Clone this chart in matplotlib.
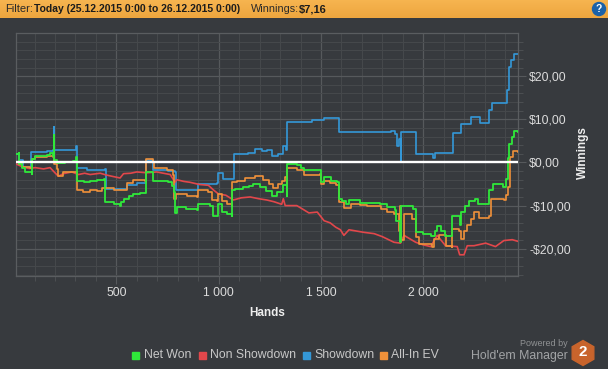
import matplotlib
matplotlib.use('Agg')
import matplotlib.pyplot as plt
from matplotlib.colors import LinearSegmentedColormap
from matplotlib.patches import Rectangle, RegularPolygon, Circle
import numpy as np

net_won_h = [7, 22, 23, 38, 54, 87, 87, 103, 135, 160, 176, 189, 193, 193, 195, 195, 209, 250, 290, 303, 310, 340, 370, 404, 440, 445, 486, 518, 525, 535, 560, 583, 615, 645, 645, 678, 681, 720, 754, 770, 782, 787, 795, 840, 893, 901, 958, 974, 994, 996, 1015, 1040, 1064, 1067, 1080, 1120, 1150, 1170, 1202, 1230, 1259, 1285, 1316, 1336, 1336, 1360, 1382, 1400, 1417, 1460, 1495, 1498, 1515, 1550, 1580, 1588, 1605, 1621, 1637, 1690, 1740, 1788, 1825, 1861, 1869, 1882, 1885, 1893, 1950, 1963, 2000, 2040, 2055, 2068, 2085, 2105, 2137, 2141, 2178, 2186, 2205, 2225, 2251, 2268, 2317, 2320, 2341, 2390, 2406, 2412, 2419, 2432, 2443, 2464]
net_won = [2.0, 2.1, -0.3, -1.2, -2.2, -2.6, 0.9, 1.4, 1.5, 1.7, 2.1, 1.4, 1.0, 6.3, 6.3, 0.5, -0.2, 0, 0.3, 1.2, -4.2, -4.5, -4.2, -4.0, -3.8, -9.2, -9.6, -10, -9.2, -8.4, -7.8, -7.3, -7, -6.9, -2.2, -2.5, -4.2, -4.4, -4.6, -5.5, -6.9, -11.8, -10.4, -10.8, -11.1, -9.7, -10.2, -12.3, -12.3, -9.7, -11.5, -12, -12.5, -6.5, -6.1, -5.8, -5.5, -5.1, -5.7, -6.6, -7.7, -6.8, -5.3, -7.7, -0.3, -0.4, -0.7, -1.3, -1.7, -1.8, -1.7, -4.6, -3.4, -4.2, -4.6, -8.4, -9, -9.6, -8.8, -9.4, -9.5, -9.6, -10.4, -11.1, -13.5, -13.5, -18.5, -10, -10.8, -16.2, -16.6, -17, -15.8, -14.8, -15.8, -17, -17, -12.5, -14.6, -11.5, -10.2, -9, -8.4, -9.6, -9.6, -6.5, -5.1, -5.7, -3.8, 1, 4.3, 6, 7.4, 7.0]

non_showdown_h = [7, 46, 75, 103, 144, 176, 200, 217, 241, 282, 315, 345, 372, 421, 450, 478, 518, 535, 570, 600, 650, 697, 763, 787, 795, 830, 860, 905, 950, 975, 999, 1035, 1072, 1110, 1154, 1195, 1235, 1270, 1308, 1316, 1325, 1382, 1417, 1441, 1482, 1515, 1545, 1572, 1595, 1612, 1637, 1710, 1760, 1800, 1857, 1889, 1906, 1963, 2000, 2036, 2068, 2109, 2166, 2178, 2199, 2215, 2248, 2305, 2353, 2394, 2435, 2464]
non_showdown = [-0.3, -1.1, -1.4, -1.2, -1.5, -1.2, -2.4, -3.2, -2.6, -2.2, -2.8, -2.5, -2.8, -2.5, -2.9, -3.2, -3.6, -2.6, -2.5, -2.2, -2.4, -2.2, -2.8, -4.6, -4, -4.4, -4.6, -5.1, -5.3, -6.4, -7.3, -7.6, -8.7, -8.2, -8, -8.4, -8.7, -9.1, -9.7, -8.4, -10, -10, -11, -11.7, -11.5, -13.5, -14, -15, -15.6, -16.9, -15.6, -16.2, -16.5, -17.2, -18.5, -18.7, -16.9, -18.5, -19.1, -19.5, -16.9, -19.3, -19.5, -21.4, -21.4, -19.3, -19.3, -18.7, -19.5, -18.1, -17.9, -18.3]

showdown_h = [7, 22, 46, 85, 85, 160, 189, 193, 197, 290, 303, 310, 355, 445, 450, 526, 551, 600, 645, 645, 681, 681, 754, 787, 790, 893, 901, 991, 999, 1020, 1064, 1075, 1145, 1178, 1210, 1235, 1259, 1292, 1316, 1329, 1336, 1336, 1417, 1458, 1515, 1583, 1588, 1783, 1840, 1860, 1873, 1881, 1893, 1893, 1958, 1963, 2036, 2046, 2055, 2142, 2145, 2182, 2186, 2229, 2231, 2272, 2275, 2318, 2321, 2337, 2394, 2410, 2419, 2430, 2443, 2464]
showdown = [1.9, 0.5, -1.1, -0.3, 2.4, 2.6, 2.9, 8.2, 2.9, 3, 3.9, -1.2, -1.7, -1.5, -6.1, -6.1, -5.3, -4.8, -4.8, 0.5, -0.3, -1.7, -1.9, -2.2, -6.3, -6.3, -4.9, -4.8, -2.5, -3.9, -3.9, 2, 2.2, 3.2, 2.7, 2.9, 1.6, 2, 3.7, 2.8, 2.8, 9.4, 9.4, 9.9, 10.2, 10.2, 7, 7, 7.3, 6.7, 3.9, 5.5, 0, 7, 7, 2, 2, 1.1, 2.2, 2.2, 6.8, 7, 8.9, 8.9, 10.5, 10.5, 9.2, 9.2, 12.2, 13.8, 13.8, 16.7, 22.1, 23.7, 25.2, 25.2]

allin_ev_h = [7, 23, 38, 79, 87, 103, 160, 189, 193, 209, 217, 241, 298, 310, 339, 370, 404, 429, 486, 526, 551, 583, 640, 645, 678, 685, 746, 779, 784, 792, 844, 893, 901, 950, 966, 991, 999, 1015, 1040, 1064, 1067, 1088, 1130, 1178, 1219, 1245, 1267, 1290, 1308, 1325, 1333, 1336, 1382, 1417, 1495, 1498, 1515, 1545, 1572, 1588, 1612, 1645, 1690, 1726, 1792, 1825, 1857, 1881, 1884, 1893, 1906, 1946, 1963, 1979, 2044, 2052, 2077, 2109, 2139, 2142, 2174, 2182, 2200, 2215, 2232, 2248, 2272, 2321, 2332, 2394, 2405, 2414, 2424, 2440, 2464]
allin_ev = [0, -0.3, -1.1, -1.2, 0.9, 1.2, 1.4, 1.2, -0.3, -1.5, -3.2, -2.2, -2.2, -6.5, -6.9, -6.5, -6.7, -5.9, -6.3, -6.3, -4.8, -4, -4.2, 0.9, 0.1, -1.2, -1.7, -3, -8.4, -7.3, -7.7, -7.9, -6.5, -6.9, -8.7, -9, -7.3, -9, -9.6, -10.2, -4.6, -4.2, -3.7, -3.2, -4, -5, -5.9, -5, -4.2, -3.4, -6.1, -1.2, -1.7, -3, -2.6, -5.1, -4.2, -4.8, -5.3, -9.2, -10.5, -9.6, -9.8, -10, -10.8, -11.4, -11.9, -15.8, -10, -18, -11.9, -13.1, -17.3, -18.9, -19.5, -17.7, -16.9, -19.3, -19.5, -15.4, -15.8, -17.7, -16, -14.6, -13, -11.4, -12.8, -12.5, -8.4, -8.7, -7.5, -5.7, 1.2, 2.6, 2.4]

x_ticks = [500, 1000, 1500, 2000]
x_labels = ['500', '1 000', '1 500', '2 000']
y_ticks = [-20, -10, 0, 10, 20]
y_labels = ['-$20,00', '-$10,00', '$0,00', '$10,00', '$20,00']
legend_names = ['Net Won', 'Non Showdown', 'Showdown', 'All-In EV']

bg = '#373a3e'
green = '#2fe83a'
red = '#e2474b'
blue = '#3498d8'
orange = '#f0913a'
txt = '#dcdcdc'

plt.rcParams['font.family'] = ['Liberation Sans', 'DejaVu Sans']

W, H = 608, 369
fig = plt.figure(figsize=(W / 100, H / 100), dpi=100, facecolor=bg)
ax = fig.add_axes([15.5 / W, 1 - 275.5 / H, 502.5 / W, 242.5 / H], facecolor=bg)

ax.plot(showdown_h, showdown, color=blue, lw=1.2, drawstyle='steps-post', zorder=3)
ax.plot(non_showdown_h, non_showdown, color=red, lw=1.2, zorder=4)
ax.plot(allin_ev_h, allin_ev, color=orange, lw=1.2, drawstyle='steps-post', zorder=5)
ax.plot(net_won_h, net_won, color=green, lw=1.3, drawstyle='steps-post', zorder=6)
ax.axhline(0, color='white', lw=1.7, zorder=7)

ax.set_xlim(7, 2463)
ax.set_ylim(-26.2, 30)
ax.set_xticks(x_ticks, x_labels)
ax.set_yticks(y_ticks, y_labels)
ax.set_xticks(np.arange(100, 2500, 100), minor=True)
ax.set_yticks(np.arange(-26, 30, 2), minor=True)
ax.yaxis.tick_right()
ax.grid(which='major', color='#56595c', lw=0.9)
ax.grid(which='minor', color='#46494c', lw=0.7)
ax.set_axisbelow(True)
ax.tick_params(which='major', length=6, width=0.8, color='#56595c', labelcolor=txt, labelsize=8.8, pad=2)
ax.tick_params(which='minor', length=3.5, width=0.7, color='#4c4f52')
ax.tick_params(axis='x', which='major', labelsize=8.8, pad=2)
for s in ax.spines.values():
    s.set_color('#5a5d60')
    s.set_linewidth(0.9)

# window chrome, in pixels
ov = fig.add_axes([0, 0, 1, 1], facecolor='none')
ov.axis('off')
ov.imshow(np.linspace(0, 1, 18).reshape(-1, 1), extent=(0, W, 18, 0), aspect='auto', vmin=0, vmax=1,
          cmap=LinearSegmentedColormap.from_list('bar', ['#f6b44f', '#eea63f']))
ov.set_xlim(0, W)
ov.set_ylim(H, 0)

ov.text(5, 9.5, 'Filter:', color='#2a2a2a', fontsize=8, va='center')
ov.text(33.5, 9.5, 'Today (25.12.2015 0:00 to 26.12.2015 0:00)', color='#1c1c1c', fontsize=7.5, va='center', fontweight='bold')
ov.text(251, 9.5, 'Winnings:', color='#2a2a2a', fontsize=7.8, va='center')
ov.text(298.5, 9.5, '$7,16', color='#1c1c1c', fontsize=8, va='center', fontweight='bold')
ov.add_patch(Circle((599, 9), 6.5, color='#1c62a8'))
ov.text(599, 9, '?', color='white', fontsize=7.5, fontweight='bold', ha='center', va='center')

ov.text(267, 313.5, 'Hands', color='#eeeeee', fontsize=8.5, fontweight='bold', ha='center', va='center')
ov.text(583, 153, 'Winnings', color='#eeeeee', fontsize=8.5, fontweight='bold', rotation=90, ha='center', va='center')

sq_x = [132, 199, 303, 380]
tx_x = [144, 210, 314, 391]
for name, c, sx, tx in zip(legend_names, [green, red, blue, orange], sq_x, tx_x):
    ov.add_patch(Rectangle((sx, 352), 6.5, 6.5, color=c))
    ov.text(tx, 355.5, name, color='#c8c8c8', fontsize=8.8, va='center')

ov.text(567.5, 344, 'Powered by', color='#8f9193', fontsize=6.5, ha='right', va='center')
ov.text(567.5, 356, "Hold'em Manager", color='#a2a4a6', fontsize=8.8, ha='right', va='center')
ov.add_patch(RegularPolygon((583, 353), 6, radius=12.5, color='#c8642c'))
ov.text(583, 352.5, '2', color='white', fontsize=11, fontweight='bold', ha='center', va='center')

fig.savefig('out.png', dpi=100, facecolor=bg)
